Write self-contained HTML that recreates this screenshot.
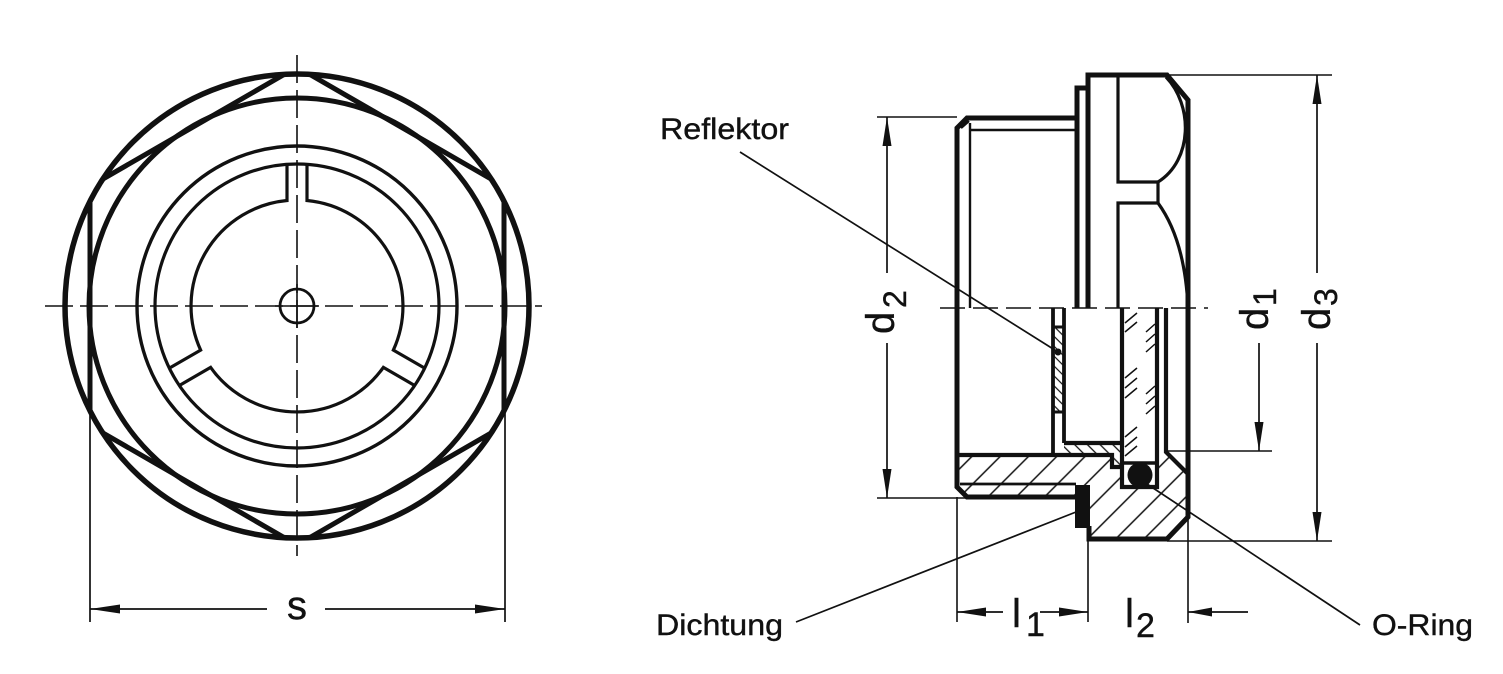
<!DOCTYPE html>
<html><head><meta charset="utf-8"><style>
html,body{margin:0;padding:0;background:#fff;}
svg{display:block;}
text{font-family:"Liberation Sans",Arial,sans-serif;fill:#111;stroke:#111;stroke-width:0.4;}
</style></head><body>
<svg width="1503" height="674" viewBox="0 0 1503 674" xmlns="http://www.w3.org/2000/svg">
<defs>
<clipPath id="oc"><circle cx="297" cy="306" r="234"/></clipPath>
<pattern id="h1" patternUnits="userSpaceOnUse" width="20" height="20" patternTransform="rotate(45)"><line x1="10" y1="0" x2="10" y2="20" stroke="#111" stroke-width="1.5"/></pattern>
<pattern id="h2" patternUnits="userSpaceOnUse" width="9" height="9" patternTransform="rotate(-45)"><line x1="4.5" y1="0" x2="4.5" y2="9" stroke="#111" stroke-width="1.3"/></pattern>
<pattern id="h3" patternUnits="userSpaceOnUse" width="7" height="7" patternTransform="rotate(-45)"><line x1="3.5" y1="0" x2="3.5" y2="7" stroke="#111" stroke-width="1.2"/></pattern>
</defs>
<rect width="1503" height="674" fill="#fff"/>

<!-- ================= LEFT VIEW ================= -->
<g fill="none" stroke="#111">
  <circle cx="297" cy="306" r="232" stroke-width="5.5"/>
  <polygon points="297,67 504,186.5 504,425.5 297,545 90,425.5 90,186.5" stroke-width="5" clip-path="url(#oc)"/>
  <circle cx="297" cy="306" r="208" stroke-width="5"/>
  <circle cx="297" cy="306" r="160" stroke-width="3.4"/>
  <circle cx="297" cy="306" r="142" stroke-width="3.2"/>
  <path stroke-width="3.2" d="M307,164.4 L307,200.5 A106,106 0 0 1 393.36,350.09 L424.63,368.14
    M414.63,385.46 L383.36,367.41 A106,106 0 0 1 210.64,367.41 L179.37,385.46
    M169.37,368.14 L200.64,350.09 A106,106 0 0 1 287,200.5 L287,164.4"/>
  <circle cx="297" cy="306" r="17" stroke-width="2.8"/>
  <!-- center lines -->
  <line x1="45" y1="306" x2="542" y2="306" stroke-width="1.6" stroke-dasharray="28 7"/>
  <line x1="297" y1="55" x2="297" y2="556" stroke-width="1.6" stroke-dasharray="28 7"/>
  <line x1="275" y1="306" x2="319" y2="306" stroke-width="1.6"/>
  <line x1="297" y1="284" x2="297" y2="328" stroke-width="1.6"/>
  <!-- s extension + dimension -->
  <line x1="90" y1="411" x2="90" y2="622" stroke-width="1.7"/>
  <line x1="505" y1="411" x2="505" y2="622" stroke-width="1.7"/>
  <line x1="90" y1="609" x2="267" y2="609" stroke-width="1.7"/>
  <line x1="325" y1="609" x2="505" y2="609" stroke-width="1.7"/>
</g>
<g fill="#111">
  <polygon points="90,609 120,604.5 120,613.5"/>
  <polygon points="505,609 475,604.5 475,613.5"/>
</g>
<text x="297" y="619" font-size="40" text-anchor="middle">s</text>

<!-- ================= RIGHT VIEW (section) ================= -->
<polygon fill="url(#h1)" points="958,455 1112,455 1112,467 1122,467 1122,487 1157,487 1157,452 1166,452 1188,474 1188,517 1167,539 1089,539 1089,485 1077,485 1077,497 967,497 958,487"/>
<polygon fill="url(#h2)" points="1064,443 1122,443 1122,467 1112,467 1112,455 1064,455"/>
<rect x="1053" y="327" width="11" height="85" fill="url(#h3)"/>

<g fill="none" stroke="#111" stroke-linejoin="miter">
  <path stroke-width="5" d="M1077,497 L967,497 L957,487 L957,128 L967,118 L1077,118"/>
  <path stroke-width="5" d="M1077,308 L1077,88 L1088,88"/>
  <path stroke-width="5" d="M1088,308 L1088,75 L1167,75 L1188,100 L1188,517 L1167,539 L1089,539 L1089,526"/>
  <path stroke-width="2.4" d="M970,308 L970,123 M970,130 L1075,130 M961,128 L969,121"/>
  <line x1="960" y1="484" x2="1076" y2="484" stroke-width="2.8"/>
  <path stroke-width="3.2" d="M1118,77 L1118,182 L1158,182 L1158,203 L1118,203 L1118,308"/>
  <path stroke-width="3.2" d="M1166,77 C1193,105 1193,160 1158,182"/>
  <path stroke-width="3.2" d="M1158,203 Q1185,240 1188,308"/>
  <path stroke-width="3.8" d="M1053,308 L1053,455 M1064,308 L1064,443"/>
  <path stroke-width="3" d="M1053,327 L1064,327 M1053,412 L1064,412"/>
  <path stroke-width="4.2" d="M958,455 L1112,455 L1112,467 L1122,467"/>
  <path stroke-width="4.2" d="M1064,443 L1122,443"/>
  <path stroke-width="4.2" d="M1122,308 L1122,487 L1157,487 L1157,308"/>
  <path stroke-width="3.6" d="M1122,463 L1157,463"/>
  <path stroke-width="4.2" d="M1166,308 L1166,452 L1188,474"/>
  <path stroke-width="1.5" d="M1125,323 L1137,313 M1125,332 L1137,322
    M1125,378 L1137,368 M1125,388 L1137,378 M1125,398 L1137,388
    M1125,437 L1137,427 M1125,447 L1137,437 M1125,456 L1137,446
    M1146,332 L1155,324 M1146,342 L1155,334 M1146,352 L1155,344
    M1146,394 L1155,386 M1146,404 L1155,396 M1146,414 L1155,406"/>
  <line x1="940" y1="308" x2="1208" y2="308" stroke-width="1.6" stroke-dasharray="25 8"/>
  <path stroke-width="1.6" d="M877,117 L957,117 M877,498 L967,498 M1167,75 L1332,75 M1167,541 L1332,541 M1166,451 L1272,451
     M957,497 L957,622 M1088,539 L1088,622 M1188,517 L1188,623"/>
  <path stroke-width="1.7" d="M887,117 L887,273 M887,343 L887,498
     M1317,75 L1317,273 M1317,343 L1317,541
     M1259,343 L1259,451
     M957,612 L1003,612 M1040,612 L1088,612 M1188,612 L1248,612"/>
  <path stroke-width="1.7" d="M740,152 L1058,352 M796,622 L1076,512 M1147,484 L1360,625"/>
</g>
<g fill="#111">
  <rect x="1075" y="485" width="15" height="43"/>
  <circle cx="1140" cy="475" r="12.5"/>
  <circle cx="1058" cy="352" r="3.5"/>
  <polygon points="887,117 882.5,146 891.5,146"/>
  <polygon points="887,498 882.5,469 891.5,469"/>
  <polygon points="1317,75 1312.5,104 1321.5,104"/>
  <polygon points="1317,541 1312.5,512 1321.5,512"/>
  <polygon points="1259,451 1254.5,422 1263.5,422"/>
  <polygon points="957,612 986,607.5 986,616.5"/>
  <polygon points="1088,612 1059,607.5 1059,616.5"/>
  <polygon points="1188,612 1212,607.5 1212,616.5"/>
</g>

<text x="660" y="139" font-size="30" textLength="129" lengthAdjust="spacingAndGlyphs">Reflektor</text>
<text x="656" y="635" font-size="30" textLength="127" lengthAdjust="spacingAndGlyphs">Dichtung</text>
<text x="1372" y="635" font-size="30" textLength="101" lengthAdjust="spacingAndGlyphs">O-Ring</text>

<text x="1012" y="627" font-size="40">l</text>
<text x="1026" y="636" font-size="34">1</text>
<text x="1125" y="627" font-size="40">l</text>
<text x="1136" y="637" font-size="34">2</text>

<text transform="translate(894,334) rotate(-90)" font-size="40">d</text>
<text transform="translate(906,308) rotate(-90)" font-size="32">2</text>
<text transform="translate(1268,330) rotate(-90)" font-size="40">d</text>
<text transform="translate(1276,306) rotate(-90)" font-size="32">1</text>
<text transform="translate(1330,330) rotate(-90)" font-size="40">d</text>
<text transform="translate(1337,306) rotate(-90)" font-size="32">3</text>
</svg>
</body></html>
